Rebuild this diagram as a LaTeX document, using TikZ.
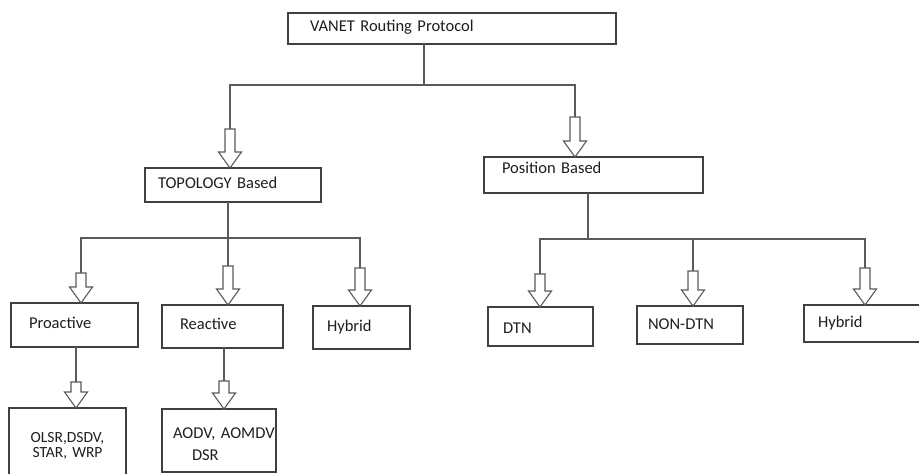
\documentclass[tikz,border=0pt]{standalone}
\usepackage{fontspec}
\setmainfont{Carlito}
\usetikzlibrary{calc}
\definecolor{boxc}{HTML}{404040}
\definecolor{linec}{HTML}{5A5A5A}
\definecolor{txtc}{HTML}{1E1E1E}
\newcommand\myind[1]{\hspace*{#1pt}}
\newcommand\barrow[2]{%
  \draw[draw=linec, fill=white, line width=1.1pt, line join=miter]
    let \p1=(#1), \p2=(#1 |- #2.north) in
    (\x1-5pt,\y1) -- (\x1+5pt,\y1) -- (\x1+5pt,\y2+16pt) -- (\x1+11.5pt,\y2+16pt)
    -- (\x1,\y2) -- (\x1-11.5pt,\y2+16pt) -- (\x1-5pt,\y2+16pt) -- cycle;}
\begin{document}
\begin{tikzpicture}[x=1pt,y=-1pt,
  tbox/.style={draw=boxc, line width=1.2pt, anchor=north west, inner sep=0pt,
    outer sep=0pt, align=left, text=txtc, font=\fontsize{16.5pt}{14.5pt}\selectfont},
  one/.style={text height=10.6pt, text depth=4pt},
  wh/.style 2 args={minimum width=#1pt, text width=#1pt, minimum height=#2pt},
  conn/.style={draw=linec, line width=1.3pt}]
\useasboundingbox (0,0) rectangle (919,474);

% boxes
\node[tbox, one, wh={328}{31}] (root) at (288,13) {\myind{22}VANET Routing Protocol};
\node[tbox, one, wh={176}{34}] (topo) at (145,168) {\myind{13}TOPOLOGY Based};
\node[tbox, one, wh={219}{36}, text depth=13pt] (pos) at (484,157) {\myind{18}Position Based};
\node[tbox, one, wh={127}{44}] (pro) at (11,303) {\myind{18}Proactive};
\node[tbox, one, wh={121}{43}] (rea) at (162,305) {\myind{18}Reactive};
\node[tbox, one, wh={97}{43}, text depth=3pt] (hyb1) at (313,306) {\myind{14}Hybrid};
\node[tbox, one, wh={105}{39}, text height=13.6pt, text depth=0pt] (dtn) at (488,307) {\myind{15}DTN};
\node[tbox, one, wh={106}{38}, text depth=2pt] (ndtn) at (637,306) {\myind{11}NON-DTN};
\node[tbox, one, wh={130}{37}, text depth=3pt] (hyb2) at (804,305) {\myind{14}Hybrid};
\node[tbox, wh={117}{76}, align=center, font=\fontsize{15.5pt}{15.5pt}\selectfont] (olsr) at (9,408) {OLSR,DSDV,\\STAR, WRP};
\node[tbox, wh={114}{63}] (aodv) at (162,409) {\myind{11}\rule{0pt}{17.7pt}AODV,~AOMDV\\[7.5pt]\myind{30}DSR};

% root level
\coordinate (rj) at (424,85);
\coordinate (rl) at (230,85);
\coordinate (rr) at (575,85);
\coordinate (ta) at (230,129);
\coordinate (pa) at (575,117);
\draw[conn] (root.south -| rj) -- (rj);
\draw[conn] (ta) -- (rl) -- (rr) -- (pa);
\barrow{ta}{topo}
\barrow{pa}{pos}

% topology level
\coordinate (tj) at (228,238);
\coordinate (tl) at (81,238);
\coordinate (tr) at (360,238);
\coordinate (a1) at (81,273);
\coordinate (a2) at (228,266);
\coordinate (a3) at (360,268);
\draw[conn] (topo.south -| tj) -- (a2);
\draw[conn] (a1) -- (tl) -- (tr) -- (a3);
\barrow{a1}{pro}
\barrow{a2}{rea}
\barrow{a3}{hyb1}

% position level
\coordinate (pj) at (588,239);
\coordinate (pl) at (540,239);
\coordinate (pm) at (693,239);
\coordinate (pr) at (865,239);
\coordinate (b1) at (540,274);
\coordinate (b2) at (693,271);
\coordinate (b3) at (865,268);
\draw[conn] (pos.south -| pj) -- (pj);
\draw[conn] (b1) -- (pl) -- (pr) -- (b3);
\draw[conn] (pm) -- (b2);
\barrow{b1}{dtn}
\barrow{b2}{ndtn}
\barrow{b3}{hyb2}

% lowest level
\coordinate (c1) at (76,382);
\coordinate (c2) at (224,381);
\draw[conn] (pro.south -| c1) -- (c1);
\draw[conn] (rea.south -| c2) -- (c2);
\barrow{c1}{olsr}
\barrow{c2}{aodv}
\end{tikzpicture}
\end{document}
